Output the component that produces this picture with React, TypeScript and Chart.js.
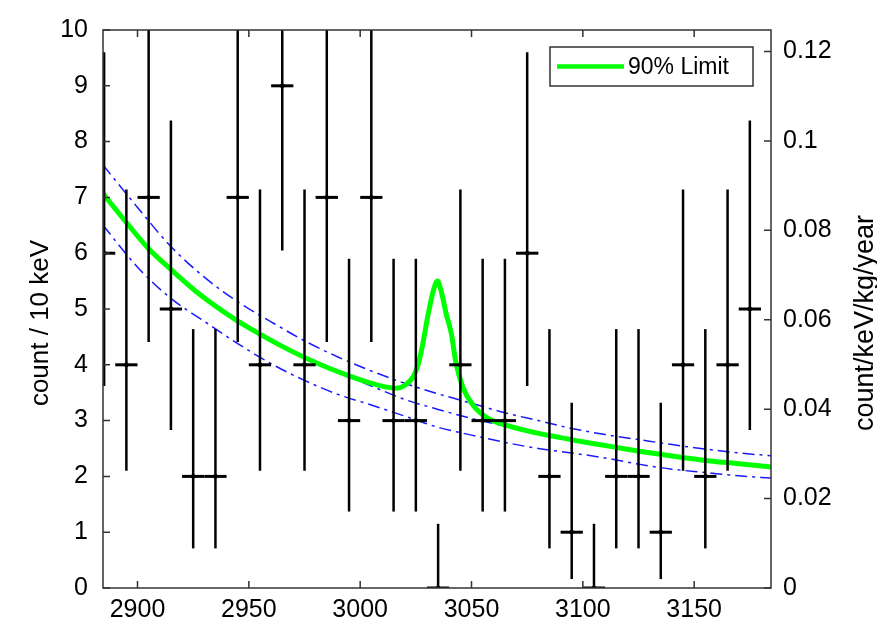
import React, { useEffect, useRef } from "react";
import { Chart, registerables } from "chart.js";

Chart.register(...registerables);

// ---- data ----
const binCenters = [2885, 2895, 2905, 2915, 2925, 2935, 2945, 2955, 2965, 2975, 2985, 2995, 3005, 3015, 3025, 3035, 3045, 3055, 3065, 3075, 3085, 3095, 3105, 3115, 3125, 3135, 3145, 3155, 3165, 3175];
const counts = [6, 4, 7, 5, 2, 2, 7, 4, 9, 4, 7, 3, 7, 3, 3, 0, 4, 3, 3, 6, 2, 1, 0, 2, 2, 1, 4, 2, 4, 5];
const errLow = [3.62, 2.1, 4.41, 2.83, 0.71, 0.71, 4.41, 2.1, 6.05, 2.1, 4.41, 1.37, 4.41, 1.37, 1.37, 0, 2.1, 1.37, 1.37, 3.62, 0.71, 0.16, 0, 0.71, 0.71, 0.16, 2.1, 0.71, 2.1, 2.83];
const errHigh = [9.6, 7.14, 10.8, 8.38, 4.64, 4.64, 10.8, 7.14, 13.1, 7.14, 10.8, 5.9, 10.8, 5.9, 5.9, 1.15, 7.14, 5.9, 5.9, 9.6, 4.64, 3.32, 1.15, 4.64, 4.64, 3.32, 7.14, 4.64, 7.14, 8.38];
const binHalfWidth = 5;

const limitX = [2884.5, 2895, 2905, 2915, 2928, 2944, 2955, 2965, 2980, 2995, 3004, 3012, 3016, 3020, 3024, 3026, 3028, 3030.5, 3033, 3034.7, 3036.5, 3038.7, 3041, 3042.8, 3046, 3051, 3057, 3067, 3079, 3088, 3100, 3115, 3134, 3154, 3169, 3184.5];
const limitY = [7.07, 6.55, 6.08, 5.71, 5.26, 4.81, 4.55, 4.33, 4.04, 3.8, 3.68, 3.6, 3.58, 3.63, 3.8, 4.0, 4.35, 4.9, 5.35, 5.5, 5.3, 4.9, 4.55, 4.08, 3.61, 3.26, 3.05, 2.9, 2.78, 2.71, 2.62, 2.52, 2.4, 2.29, 2.23, 2.17];

const bandX = [2884.5, 2900, 2915, 2930, 2945, 2960, 2975, 2990, 3005, 3020, 3035, 3050, 3065, 3080, 3095, 3110, 3125, 3140, 3155, 3170, 3184.5];
const bkgUpper = [7.58, 6.82, 6.12, 5.57, 5.13, 4.77, 4.43, 4.14, 3.89, 3.67, 3.48, 3.31, 3.14, 3.0, 2.86, 2.75, 2.66, 2.57, 2.49, 2.42, 2.37];
const bkgFit = [7.07, 6.31, 5.71, 5.21, 4.79, 4.43, 4.12, 3.87, 3.62, 3.38, 3.2, 3.04, 2.9, 2.78, 2.66, 2.56, 2.46, 2.37, 2.29, 2.22, 2.17];
const bkgLower = [6.5, 5.75, 5.19, 4.78, 4.38, 4.02, 3.72, 3.47, 3.28, 3.08, 2.88, 2.74, 2.61, 2.5, 2.42, 2.33, 2.22, 2.13, 2.07, 2.01, 1.97];

const xTicks = [2900, 2950, 3000, 3050, 3100, 3150];
const yTicks = [0, 1, 2, 3, 4, 5, 6, 7, 8, 9, 10];
const y2Ticks = [0, 0.02, 0.04, 0.06, 0.08, 0.1, 0.12];
const xRange = [2884.5, 3184.5];
const yRange = [0, 10];
const y2Range = [0, 0.1248];

const leftTitle = "count / 10 keV";
const rightTitle = "count/keV/kg/year";
const legendLabel = "90% Limit";

const FONT = "'Liberation Sans', Arial, sans-serif";
const GREEN = "#00ff00";
const BLUE = "#1a1aff";

const pts = (xs: number[], ys: number[]) => xs.map((x, i) => ({ x, y: ys[i] }));

const decorPlugin = {
  id: "decor",
  afterDatasetsDraw(chart: any) {
    const { ctx, chartArea: a, scales } = chart;
    const xs = scales.x, ys = scales.y, y2 = scales.y2;
    // error bars
    ctx.save();
    ctx.beginPath();
    ctx.rect(a.left, a.top, a.right - a.left, a.bottom - a.top);
    ctx.clip();
    ctx.strokeStyle = "#000";
    binCenters.forEach((c, i) => {
      const px = xs.getPixelForValue(c);
      ctx.lineWidth = 2.5;
      ctx.beginPath();
      ctx.moveTo(px, ys.getPixelForValue(errLow[i]));
      ctx.lineTo(px, ys.getPixelForValue(errHigh[i]));
      ctx.stroke();
      ctx.lineWidth = 3;
      const py = ys.getPixelForValue(counts[i]);
      ctx.beginPath();
      ctx.moveTo(xs.getPixelForValue(c - binHalfWidth), py);
      ctx.lineTo(xs.getPixelForValue(c + binHalfWidth), py);
      ctx.stroke();
    });
    ctx.restore();

    // frame and inward ticks
    ctx.save();
    ctx.strokeStyle = "#333";
    ctx.lineWidth = 1.5;
    ctx.strokeRect(a.left, a.top, a.right - a.left, a.bottom - a.top);
    const tl = 7;
    ctx.beginPath();
    xTicks.forEach((v) => {
      const p = xs.getPixelForValue(v);
      ctx.moveTo(p, a.bottom); ctx.lineTo(p, a.bottom - tl);
      ctx.moveTo(p, a.top); ctx.lineTo(p, a.top + tl);
    });
    yTicks.forEach((v) => {
      const p = ys.getPixelForValue(v);
      ctx.moveTo(a.left, p); ctx.lineTo(a.left + tl, p);
    });
    y2Ticks.forEach((v) => {
      const p = y2.getPixelForValue(v);
      ctx.moveTo(a.right, p); ctx.lineTo(a.right - tl, p);
    });
    ctx.stroke();
    ctx.restore();

    // axis titles
    const cy = (a.top + a.bottom) / 2 + 14;
    ctx.save();
    ctx.fillStyle = "#000";
    ctx.font = `26px ${FONT}`;
    ctx.textAlign = "center";
    ctx.textBaseline = "middle";
    ctx.translate(a.left - 62, cy);
    ctx.rotate(-Math.PI / 2);
    ctx.fillText(leftTitle, 0, 0);
    ctx.restore();
    ctx.save();
    ctx.fillStyle = "#000";
    ctx.font = `27px ${FONT}`;
    ctx.textAlign = "center";
    ctx.textBaseline = "middle";
    ctx.translate(a.right + 95, cy);
    ctx.rotate(-Math.PI / 2);
    ctx.fillText(rightTitle, 0, 0);
    ctx.restore();

    // legend
    ctx.save();
    const lx = a.right - 221, ly = a.top + 17, lw = 203, lh = 39;
    ctx.fillStyle = "#fff";
    ctx.fillRect(lx, ly, lw, lh);
    ctx.strokeStyle = "#333";
    ctx.lineWidth = 1.5;
    ctx.strokeRect(lx, ly, lw, lh);
    ctx.strokeStyle = GREEN;
    ctx.lineWidth = 4.5;
    ctx.beginPath();
    ctx.moveTo(lx + 7, ly + lh / 2);
    ctx.lineTo(lx + 74, ly + lh / 2);
    ctx.stroke();
    ctx.fillStyle = "#000";
    ctx.font = `23px ${FONT}`;
    ctx.textAlign = "left";
    ctx.textBaseline = "middle";
    ctx.fillText(legendLabel, lx + 78, ly + lh / 2 + 1);
    ctx.restore();
  },
};

export default function App() {
  const ref = useRef<HTMLCanvasElement | null>(null);
  useEffect(() => {
    document.body.style.margin = "0";
    const canvas = ref.current!;
    const dash = [12, 5, 3, 5];
    const blueLine = (d: number[]) => ({
      data: pts(bandX, d),
      borderColor: BLUE,
      borderWidth: 1.5,
      borderDash: dash,
      pointRadius: 0,
      cubicInterpolationMode: "monotone",
      fill: false,
      yAxisID: "y",
      order: 5,
    });
    const chart = new Chart(canvas, {
      type: "line",
      data: {
        datasets: [
          {
            data: pts(binCenters, counts),
            showLine: false,
            pointRadius: 2,
            pointBackgroundColor: "#000",
            pointBorderColor: "#000",
            yAxisID: "y",
            order: 0,
          } as any,
          {
            label: legendLabel,
            data: pts(limitX, limitY),
            borderColor: GREEN,
            borderWidth: 5,
            pointRadius: 0,
            cubicInterpolationMode: "monotone",
            fill: false,
            yAxisID: "y",
            order: 1,
          } as any,
          blueLine(bkgUpper) as any,
          blueLine(bkgFit) as any,
          blueLine(bkgLower) as any,
        ],
      },
      options: {
        animation: false,
        responsive: false,
        devicePixelRatio: 1,
        layout: { padding: { top: 21, left: 0, right: 0, bottom: 0 } },
        plugins: { legend: { display: false }, tooltip: { enabled: false } },
        scales: {
          x: {
            type: "linear",
            min: xRange[0],
            max: xRange[1],
            grid: { display: false, drawTicks: false },
            border: { display: false },
            afterBuildTicks: (s: any) => { s.ticks = xTicks.map((v) => ({ value: v })); },
            afterFit: (s: any) => { s.height = 38; },
            ticks: { color: "#000", font: { size: 25, family: FONT }, padding: 7, maxRotation: 0, autoSkip: false, callback: (v: any) => String(v) },
          },
          y: {
            type: "linear",
            position: "left",
            min: yRange[0],
            max: yRange[1],
            grid: { display: false, drawTicks: false },
            border: { display: false },
            afterBuildTicks: (s: any) => { s.ticks = yTicks.map((v) => ({ value: v })); },
            afterFit: (s: any) => { s.width = 103; },
            ticks: { color: "#000", font: { size: 25, family: FONT }, padding: 15, autoSkip: false, callback: (v: any) => String(v) },
          },
          y2: {
            type: "linear",
            position: "right",
            min: y2Range[0],
            max: y2Range[1],
            grid: { display: false, drawTicks: false },
            border: { display: false },
            afterBuildTicks: (s: any) => { s.ticks = y2Ticks.map((v) => ({ value: v })); },
            afterFit: (s: any) => { s.width = 106; },
            ticks: { color: "#000", font: { size: 25, family: FONT }, padding: 12, autoSkip: false, callback: (v: any) => String(Number(Number(v).toFixed(2))) },
          },
        },
      } as any,
      plugins: [decorPlugin],
    });
    return () => chart.destroy();
  }, []);
  return (
    <div style={{ position: "absolute", left: 0, top: 0, width: 877, height: 626 }}>
      <canvas ref={ref} width={877} height={626} />
    </div>
  );
}
